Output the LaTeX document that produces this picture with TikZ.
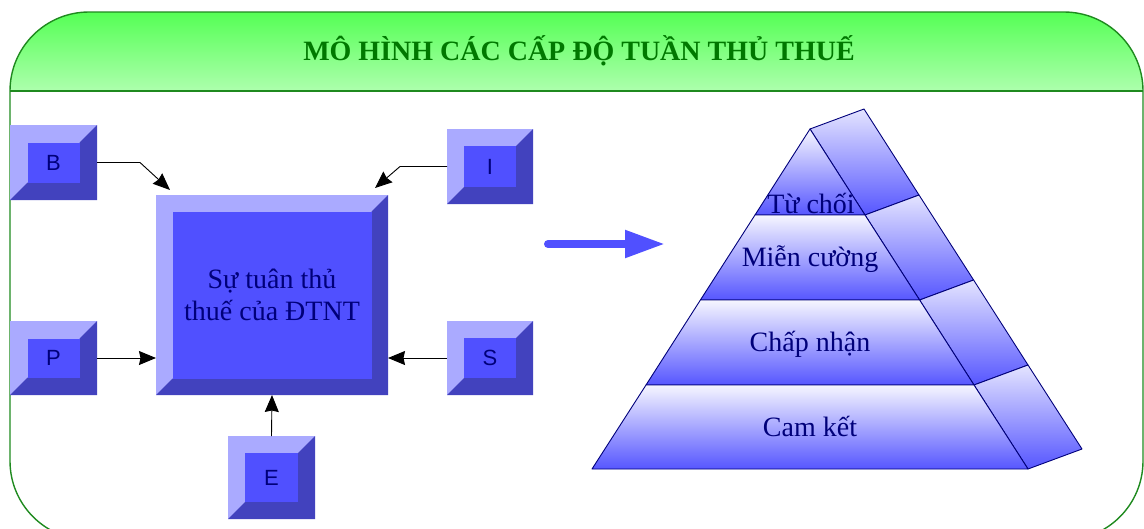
\documentclass[tikz,border=0pt]{standalone}
\usepackage{fontspec}
\setmainfont{Liberation Serif}
\newfontfamily\letterfont{Liberation Sans}
\usetikzlibrary{arrows.meta,calc}

\definecolor{bevlight}{HTML}{AAAAFF}
\definecolor{bevdark}{HTML}{4242BE}
\definecolor{bevface}{HTML}{5050FF}
\definecolor{navy}{HTML}{00007A}
\definecolor{framegreen}{HTML}{1F8A1F}
\definecolor{bandtop}{HTML}{55FF55}
\definecolor{bandbot}{HTML}{ADFFAD}
\definecolor{titlegreen}{HTML}{007800}
\definecolor{layertop}{HTML}{F6F6FF}
\definecolor{layerbot}{HTML}{5656FF}
\definecolor{sidetop}{HTML}{E4E4FF}

\tikzset{
  bevouter/.style={fill=bevlight, draw=none, inner sep=0pt, outer sep=0pt},
  bevinner/.style={fill=bevface, draw=none, inner sep=0pt, outer sep=0pt,
                   text=navy, align=center},
  letterstyle/.style={font=\letterfont\fontsize{22}{26}\selectfont},
  centrestyle/.style={font=\fontsize{28}{32}\selectfont},
  conn/.style={draw=black, line width=0.9pt,
               -{Stealth[length=17pt,width=14pt,inset=1.5pt]}},
  bigarrow/.style={draw=bevface, line width=8pt, line cap=round,
                   -{Triangle[length=40pt,width=26pt]}},
  layer/.style={top color=layertop, bottom color=layerbot, draw=navy,
                line width=0.9pt, line join=round},
  sideface/.style={top color=sidetop, bottom color=layerbot, draw=navy,
                   line width=0.9pt, line join=round},
  layerlabel/.style={text=navy, anchor=base, inner sep=0pt,
                     font=\fontsize{28}{32}\selectfont},
  titletext/.style={text=titlegreen, anchor=base, inner sep=0pt,
                    font=\fontsize{28}{32}\selectfont\bfseries},
  frameline/.style={draw=framegreen, line width=1.4pt},
}

% bevelled square button: name, centre x, centre y, width, height, bevel, text style, label
\newcommand\bevelbox[8]{%
  \node[bevouter, minimum width=#4pt, minimum height=#5pt] (#1) at (#2,#3) {};
  \fill[bevdark] (#1.south west) -- (#1.south east) -- (#1.north east)
    -- ([shift={(-#6pt,-#6pt)}]#1.north east)
    -- ([shift={(-#6pt,#6pt)}]#1.south east)
    -- ([shift={(#6pt,#6pt)}]#1.south west) -- cycle;
  \node[bevinner, #7, minimum width=#4pt-2*#6pt, minimum height=#5pt-2*#6pt]
    (#1-face) at (#1.center) {#8};
}

\begin{document}
\begin{tikzpicture}[x=1pt, y=-1pt]
  \useasboundingbox (0,0) rectangle (1144,528);
  \clip (0,0) rectangle (1144,528);

  % frame with green title band
  \begin{scope}
    \clip[rounded corners=79pt] (10,12) rectangle (1143,540);
    \shade[top color=bandtop, bottom color=bandbot] (10,12) rectangle (1143,91);
  \end{scope}
  \draw[frameline, rounded corners=79pt] (10,12) rectangle (1143,540);
  \draw[frameline] (10,91) -- (1143,91);
  \node[titletext] (title) at (579,60) {MÔ HÌNH CÁC CẤP ĐỘ TUẦN THỦ THUẾ};

  % factor buttons and the central box
  \bevelbox{C}{272}{295}{232}{200}{16.5}{centrestyle}{Sự tuân thủ\\thuế của ĐTNT}
  \bevelbox{B}{53.5}{162.5}{87}{75}{17.5}{letterstyle}{B}
  \bevelbox{I}{490}{166.5}{86}{75}{17}{letterstyle}{I}
  \bevelbox{P}{53.5}{358}{87}{74}{17.5}{letterstyle}{P}
  \bevelbox{S}{490}{358}{86}{74}{17}{letterstyle}{S}
  \bevelbox{E}{271.5}{477.5}{87}{83}{17}{letterstyle}{E}

  % connectors into the central box
  \draw[conn] (B.east) -- ++(43,0) -- ([shift={(14pt,5pt)}]C.north west);
  \draw[conn] (I.west) -- ++(-47,0) -- ([shift={(-13pt,7pt)}]C.north east);
  \draw[conn] (P.east) -- (P.east -| C.west);
  \draw[conn] (S.west) -- (S.west -| C.east);
  \draw[conn] (E.north) -- (C.south);

  % arrow towards the pyramid
  \coordinate (arrS) at (548,244);
  \coordinate (arrE) at (665,244);
  \draw[bigarrow] (arrS) -- (arrE);

  % pyramid: side faces
  \path[sideface] (810,129) -- (864,109) -- (919,195) -- (865,215) -- cycle;
  \path[sideface] (865,215) -- (919,195) -- (973.6,280) -- (919.6,300) -- cycle;
  \path[sideface] (919.6,300) -- (973.6,280) -- (1028,365) -- (974,385) -- cycle;
  \path[sideface] (974,385) -- (1028,365) -- (1082,449) -- (1028,469) -- cycle;

  % pyramid: front layers
  \path[layer] (810,129) -- (865,215) -- (755,215) -- cycle;
  \path[layer] (755,215) -- (865,215) -- (919.6,300) -- (700.4,300) -- cycle;
  \path[layer] (700.4,300) -- (919.6,300) -- (974,385) -- (646,385) -- cycle;
  \path[layer] (646,385) -- (974,385) -- (1028,469) -- (592,469) -- cycle;

  \node[layerlabel] (tuchoi)  at (811,213) {Từ chối};
  \node[layerlabel] (miencuong) at (810,266) {Miễn cường};
  \node[layerlabel] (chapnhan) at (810,351) {Chấp nhận};
  \node[layerlabel] (camket)  at (810,436) {Cam kết};
\end{tikzpicture}
\end{document}
